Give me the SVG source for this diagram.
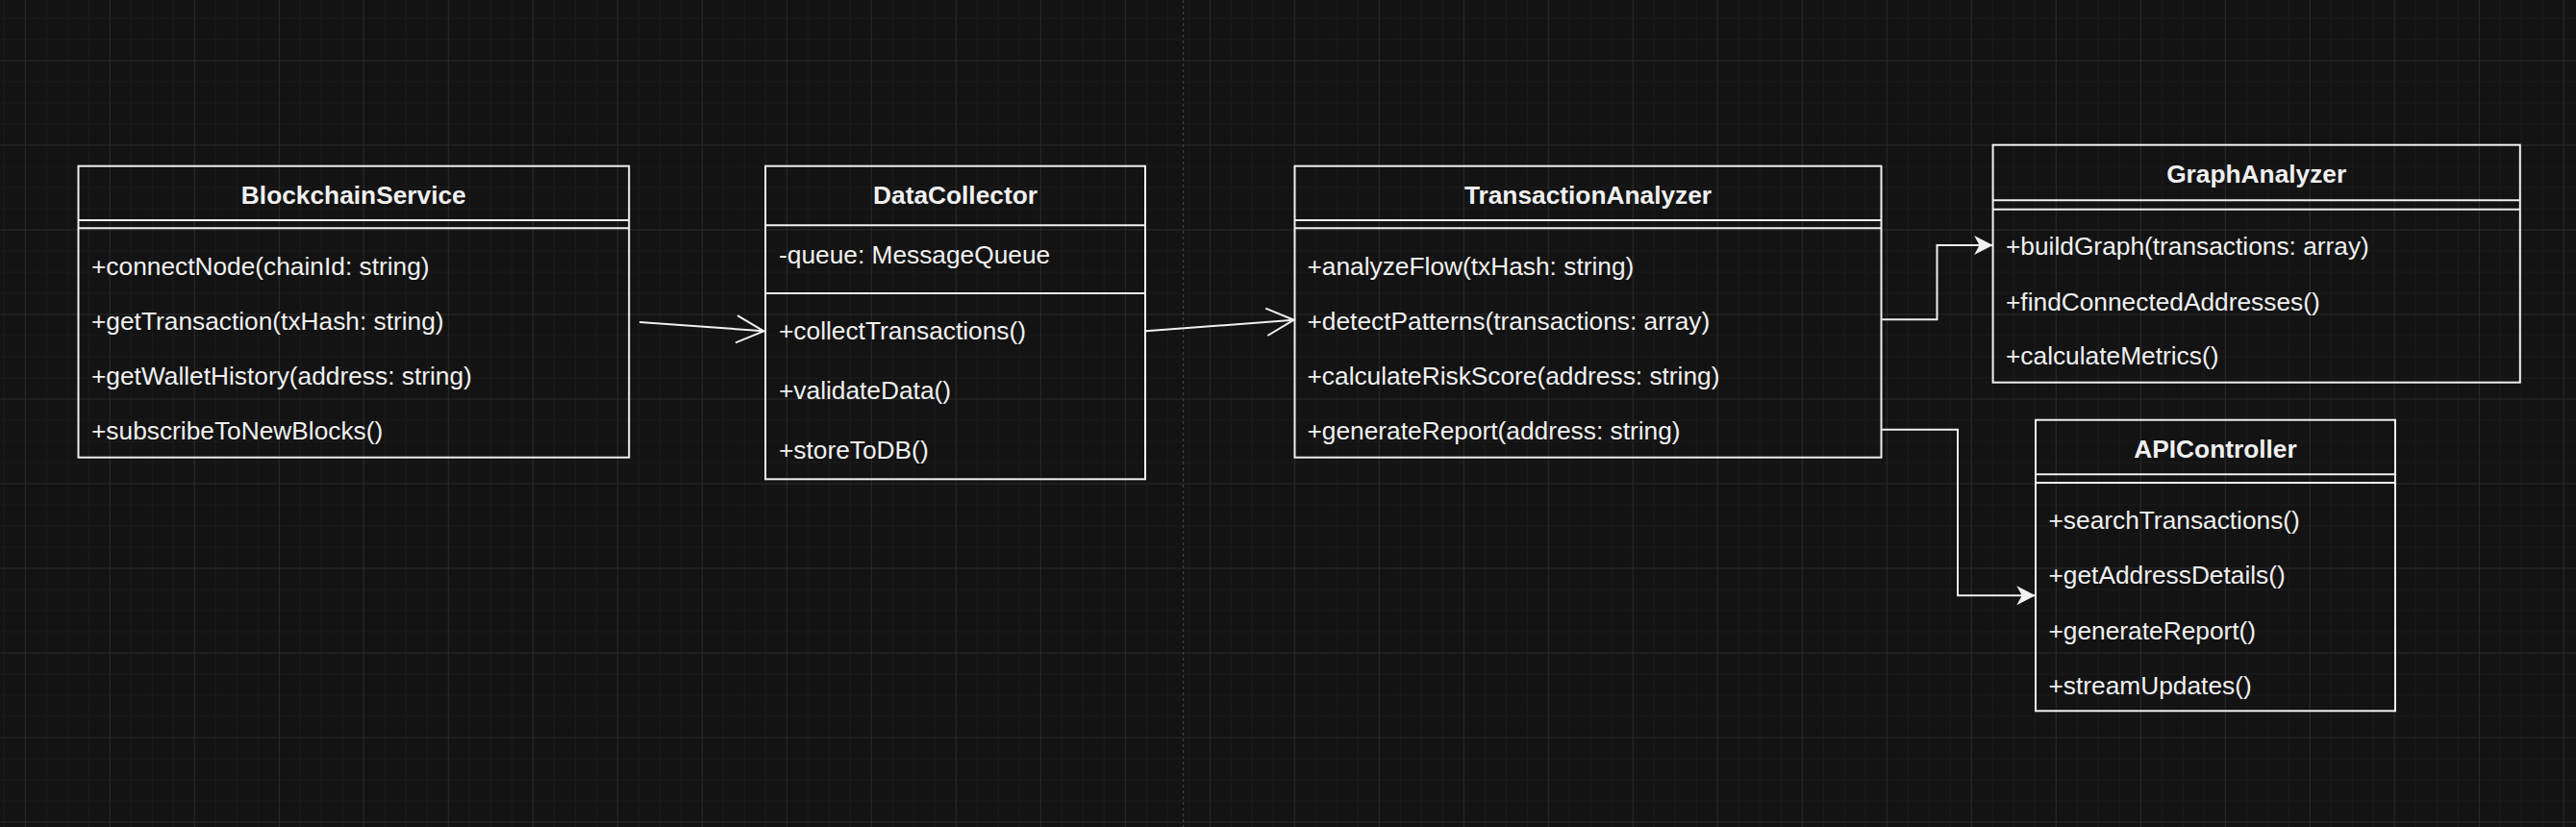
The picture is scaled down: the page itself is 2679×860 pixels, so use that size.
<svg xmlns="http://www.w3.org/2000/svg" width="2679" height="860" viewBox="0 0 2679 860">
  <style>
    .box { fill: none; stroke: #f0f0f0; stroke-width: 2; }
    .sep { stroke: #f0f0f0; stroke-width: 2; }
    .title { font-family: "Liberation Sans", Arial, sans-serif; font-size: 26.3px; font-weight: bold; fill: #f0f0f0; text-anchor: middle; }
    .item { font-family: "Liberation Sans", Arial, sans-serif; font-size: 26.3px; fill: #f0f0f0; }
    .edge { fill: none; stroke: #f0f0f0; stroke-width: 2; }
  </style>
  <defs>
    <pattern id="grid" patternUnits="userSpaceOnUse" x="25.8" y="62.5" width="88" height="88">
      <path d="M22.5 0 V88 M44.5 0 V88 M66.5 0 V88 M0 22.5 H88 M0 44.5 H88 M0 66.5 H88" stroke="#1b1b1b" stroke-width="1" fill="none"/>
      <path d="M0.5 0 V88 M0 0.5 H88" stroke="#2b2b2b" stroke-width="1" fill="none"/>
    </pattern>
    <marker id="open" markerUnits="userSpaceOnUse" viewBox="-32 -17 34 34" markerWidth="34" markerHeight="34" refX="0" refY="0" orient="auto">
      <path d="M-28.4,-14.2 L0,0 L-28.4,14.2" fill="none" stroke="#f0f0f0" stroke-width="2"/>
    </marker>
    <marker id="block" markerUnits="userSpaceOnUse" viewBox="-22 -12 24 24" markerWidth="24" markerHeight="24" refX="0" refY="0" orient="auto">
      <path d="M0,0 L-19.5,-10 L-14,0 L-19.5,10 Z" fill="#f0f0f0" stroke="none"/>
    </marker>
  </defs>

  <rect x="0" y="0" width="2679" height="860" fill="#131313"/>
  <rect x="0" y="0" width="2679" height="860" fill="url(#grid)"/>
  <line x1="1230.7" y1="0" x2="1230.7" y2="860" stroke="#4a4a4a" stroke-width="1" stroke-dasharray="3 3"/>

  <g id="connectors">
    <path class="edge" d="M665,335 L794.3,344.3" marker-end="url(#open)"/>
    <path class="edge" d="M1191.4,344.3 L1345.6,332.7" marker-end="url(#open)"/>
    <path class="edge" d="M1957.3,332.3 H2014.5 V255 H2072.6" marker-end="url(#block)"/>
    <path class="edge" d="M1957.3,446.7 H2036 V619.3 H2116.8" marker-end="url(#block)"/>
  </g>

  <g id="BlockchainService">
    <rect class="box" x="81.5" y="172.7" width="572.7" height="303"/>
    <line class="sep" x1="81.5" y1="229" x2="654.2" y2="229"/>
    <line class="sep" x1="81.5" y1="237.3" x2="654.2" y2="237.3"/>
    <text class="title" x="367.8" y="211.5">BlockchainService</text>
    <text class="item" x="95" y="286">+connectNode(chainId: string)</text>
    <text class="item" x="95" y="343">+getTransaction(txHash: string)</text>
    <text class="item" x="95" y="400">+getWalletHistory(address: string)</text>
    <text class="item" x="95" y="457">+subscribeToNewBlocks()</text>
  </g>

  <g id="DataCollector">
    <rect class="box" x="796" y="172.7" width="395" height="325.6"/>
    <line class="sep" x1="796" y1="234.3" x2="1191" y2="234.3"/>
    <line class="sep" x1="796" y1="305" x2="1191" y2="305"/>
    <text class="title" x="993.5" y="211.5">DataCollector</text>
    <text class="item" x="810" y="274">-queue: MessageQueue</text>
    <text class="item" x="810" y="352.7">+collectTransactions()</text>
    <text class="item" x="810" y="415">+validateData()</text>
    <text class="item" x="810" y="476.7">+storeToDB()</text>
  </g>

  <g id="TransactionAnalyzer">
    <rect class="box" x="1346.5" y="172.7" width="610" height="303"/>
    <line class="sep" x1="1346.5" y1="229" x2="1956.5" y2="229"/>
    <line class="sep" x1="1346.5" y1="237.3" x2="1956.5" y2="237.3"/>
    <text class="title" x="1651.5" y="211.5">TransactionAnalyzer</text>
    <text class="item" x="1359.5" y="286">+analyzeFlow(txHash: string)</text>
    <text class="item" x="1359.5" y="343">+detectPatterns(transactions: array)</text>
    <text class="item" x="1359.5" y="400">+calculateRiskScore(address: string)</text>
    <text class="item" x="1359.5" y="457">+generateReport(address: string)</text>
  </g>

  <g id="GraphAnalyzer">
    <rect class="box" x="2072.6" y="150.7" width="548.2" height="247"/>
    <line class="sep" x1="2072.6" y1="208.3" x2="2620.8" y2="208.3"/>
    <line class="sep" x1="2072.6" y1="217.7" x2="2620.8" y2="217.7"/>
    <text class="title" x="2346.7" y="190">GraphAnalyzer</text>
    <text class="item" x="2086" y="265">+buildGraph(transactions: array)</text>
    <text class="item" x="2086" y="322.7">+findConnectedAddresses()</text>
    <text class="item" x="2086" y="379.3">+calculateMetrics()</text>
  </g>

  <g id="APIController">
    <rect class="box" x="2117" y="436.7" width="374" height="302.6"/>
    <line class="sep" x1="2117" y1="493.3" x2="2491" y2="493.3"/>
    <line class="sep" x1="2117" y1="502" x2="2491" y2="502"/>
    <text class="title" x="2304" y="476">APIController</text>
    <text class="item" x="2130.5" y="550">+searchTransactions()</text>
    <text class="item" x="2130.5" y="607.3">+getAddressDetails()</text>
    <text class="item" x="2130.5" y="665">+generateReport()</text>
    <text class="item" x="2130.5" y="721.7">+streamUpdates()</text>
  </g>
</svg>
